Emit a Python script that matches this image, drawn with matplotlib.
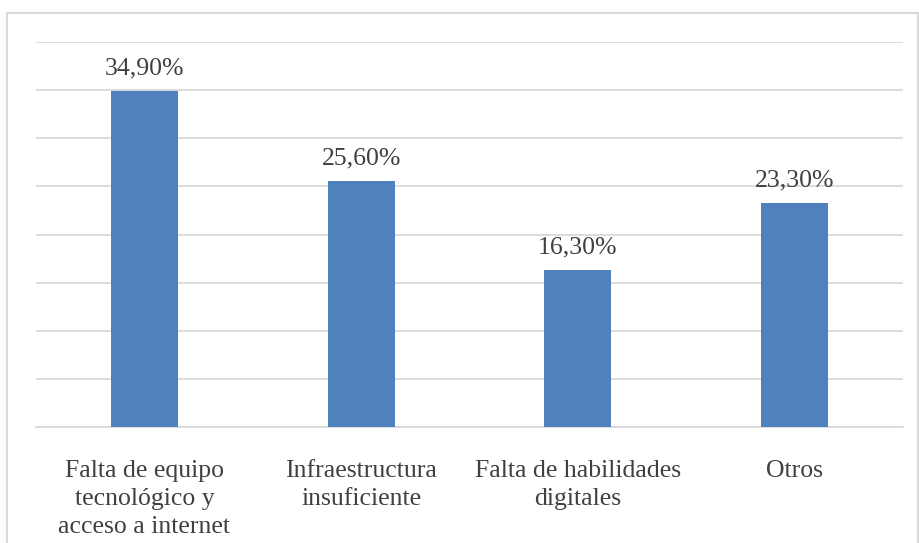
import matplotlib.pyplot as plt
from matplotlib.patches import Rectangle

categories = ["Falta de equipo\ntecnológico y\nacceso a internet",
              "Infraestructura\ninsuficiente",
              "Falta de habilidades\ndigitales",
              "Otros"]
values = [34.9, 25.6, 16.3, 23.3]
value_labels = ["34,90%", "25,60%", "16,30%", "23,30%"]

plt.rcParams['font.family'] = ['Liberation Serif', 'DejaVu Serif']
text_color = '#404040'

fig = plt.figure(figsize=(9.19, 5.43), dpi=100)
ax = fig.add_axes([36 / 919, 1 - 427 / 543, (903 - 36) / 919, (427 - 42) / 543])

x = range(len(categories))
bars = ax.bar(x, values, width=0.31, color='#4f81bd', zorder=3)

for b, lab in zip(bars, value_labels):
    ax.text(b.get_x() + b.get_width() / 2, b.get_height() + 1.2, lab,
            ha='center', va='bottom', fontsize=18.5, color=text_color)

ax.set_ylim(0, 40)
ax.set_xlim(-0.5, len(categories) - 0.5)
ax.set_yticks(range(0, 41, 5))
ax.yaxis.grid(True, color='#d9d9d9', linewidth=1.3, zorder=0)
ax.tick_params(axis='y', left=False, labelleft=False)
ax.tick_params(axis='x', bottom=False, pad=20)
ax.set_xticks(list(x))
ax.set_xticklabels(categories, fontsize=18.5, color=text_color, linespacing=1.35, va='top')

for s in ['top', 'left', 'right']:
    ax.spines[s].set_visible(False)
ax.spines['bottom'].set_color('#d9d9d9')
ax.spines['bottom'].set_linewidth(1.3)

# outer chart frame
fig.patches.append(Rectangle((7 / 919, -0.05), (918 - 7) / 919, 1.05 - 13 / 543,
                             transform=fig.transFigure, fill=False,
                             edgecolor='#d9d9d9', linewidth=1.5))

fig.savefig('out.png', dpi=100)
